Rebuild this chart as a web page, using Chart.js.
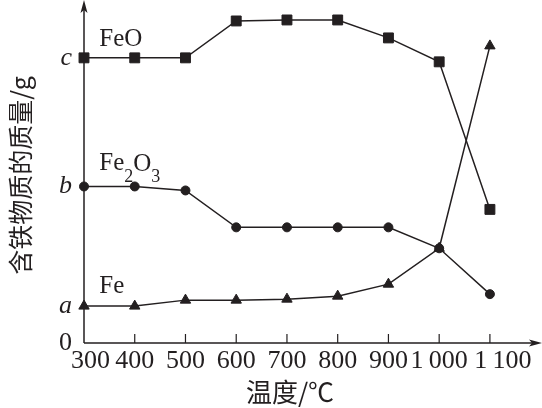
<!DOCTYPE html>
<html><head><meta charset="utf-8">
<script src="https://cdn.jsdelivr.net/npm/chart.js@4"></script>
<style>html,body{margin:0;padding:0;background:#fff}#wrap{width:542px;height:408px}</style>
</head><body><div id="wrap"><canvas id="c" width="542" height="408"></canvas></div>
<script>
// ---- data ----
const temperatures = [300, 400, 500, 600, 700, 800, 900, 1000, 1100];
const feoMass   = [286, 286, 286, 323, 324, 324, 306, 282, 134];
const fe2o3Mass = [157, 157, 153, 116, 116, 116, 116, 95, 49];
const feMass    = [37, 37, 43, 43, 44, 47, 59, 95, 298];
const xTickValues = [300, 400, 500, 600, 700, 800, 900, 1000, 1100];
const xTickLabels = ['\u2007300', '400', '500', '600', '700', '800', '900', '1\u2009000', '\u2007\u20071\u2009100'];
const yTickValues = [0, 37, 157, 286];
const yTickLabels = ['0', 'a', 'b', 'c'];
const seriesNames = ['FeO', 'Fe2O3', 'Fe'];
// label anchors (data coordinates)
const labelAnchors = [[330, 298], [330, 174], [330, 50]];

const INK = '#231f20';
const SERIF = '"Liberation Serif", "DejaVu Serif", serif';
const CJK = '"Noto Sans CJK SC", sans-serif';
const X_MIN = 300, X_MAX = 1112, Y_MIN = 0, Y_MAX = 336;

function pts(vals){ return temperatures.map((t,i)=>({x:t, y:vals[i]})); }

const decor = {
  id: 'decor',
  afterDraw(chart){
    const ctx = chart.ctx, xs = chart.scales.x, ys = chart.scales.y;
    const x0 = xs.getPixelForValue(X_MIN), y0 = ys.getPixelForValue(0);
    ctx.save();
    ctx.strokeStyle = INK; ctx.fillStyle = INK; ctx.lineWidth = 1.5;
    // axes
    ctx.beginPath();
    ctx.moveTo(x0, y0); ctx.lineTo(x0, 6);
    ctx.moveTo(x0, y0); ctx.lineTo(535, y0);
    ctx.stroke();
    // arrowheads
    ctx.beginPath();
    ctx.moveTo(x0, 0); ctx.lineTo(x0 - 3.5, 13); ctx.lineTo(x0, 10); ctx.lineTo(x0 + 3.5, 13); ctx.closePath(); ctx.fill();
    ctx.beginPath();
    ctx.moveTo(542, y0); ctx.lineTo(529, y0 - 3.5); ctx.lineTo(532, y0); ctx.lineTo(529, y0 + 3.5); ctx.closePath(); ctx.fill();
    // tick marks (inward)
    ctx.lineWidth = 1.2;
    ctx.beginPath();
    xs.ticks.forEach(t => {
      if (t.value === X_MIN) return;
      const px = xs.getPixelForValue(t.value);
      ctx.moveTo(px, y0); ctx.lineTo(px, y0 - 9);
    });
    ctx.stroke();
    // series labels
    ctx.textBaseline = 'alphabetic'; ctx.textAlign = 'left';
    labelAnchors.forEach((a, i) => {
      let px = xs.getPixelForValue(a[0]);
      const py = ys.getPixelForValue(a[1]);
      const name = seriesNames[i];
      for (const ch of name) {
        if (/[0-9]/.test(ch)) {
          ctx.font = '18px ' + SERIF;
          ctx.fillText(ch, px, py + 12);
        } else {
          ctx.font = '25px ' + SERIF;
          ctx.fillText(ch, px, ch === 'O' && name.length > 3 ? py + 1 : py);
        }
        px += ctx.measureText(ch).width;
      }
    });
    ctx.restore();
  }
};

const lineStyle = {
  borderColor: INK, backgroundColor: INK, borderWidth: 1.5,
  pointBorderColor: INK, pointBackgroundColor: INK, pointBorderWidth: 1,
  tension: 0, clip: false
};

new Chart(document.getElementById('c'), {
  type: 'line',
  data: {
    datasets: [
      Object.assign({label: seriesNames[0], data: pts(feoMass), pointStyle: 'rect', pointRadius: 7}, lineStyle),
      Object.assign({label: seriesNames[1], data: pts(fe2o3Mass), pointStyle: 'circle', pointRadius: 4.5}, lineStyle),
      Object.assign({label: seriesNames[2], data: pts(feMass), pointStyle: 'triangle', pointRadius: 6}, lineStyle)
    ]
  },
  options: {
    responsive: false, animation: false, events: [],
    layout: {padding: {top: 0, left: 0, right: 46, bottom: 0}},
    plugins: {legend: {display: false}, tooltip: {enabled: false}},
    scales: {
      x: {
        type: 'linear', min: X_MIN, max: X_MAX,
        grid: {display: false, drawTicks: false}, border: {display: false},
        afterBuildTicks: s => { s.ticks = xTickValues.map(v => ({value: v})); },
        afterFit: s => { s.height = 65; s.paddingLeft = 0; s.paddingRight = 0; },
        ticks: {
          color: INK, padding: 3, maxRotation: 0, autoSkip: false,
          font: {family: SERIF, size: 26},
          callback: v => xTickLabels[xTickValues.indexOf(v)]
        },
        title: {display: true, text: '温度/℃', color: INK, font: {family: CJK, size: 26}, padding: {top: 0, bottom: 0}}
      },
      y: {
        type: 'linear', min: Y_MIN, max: Y_MAX,
        grid: {display: false, drawTicks: false}, border: {display: false},
        afterBuildTicks: s => { s.ticks = yTickValues.map(v => ({value: v})); },
        afterFit: s => { s.width = 84; s.paddingTop = 0; s.paddingBottom = 0; },
        ticks: {
          color: INK, padding: 12, autoSkip: false,
          font: ctx => ({family: SERIF, size: 26, style: (ctx.tick && ctx.tick.value !== 0) ? 'italic' : 'normal'}),
          callback: v => yTickLabels[yTickValues.indexOf(v)]
        },
        title: {display: true, text: '含铁物质的质量/g', color: INK, font: {family: CJK, size: 25}, padding: {top: 5, bottom: 0}}
      }
    }
  },
  plugins: [decor]
});
</script>
</body></html>
